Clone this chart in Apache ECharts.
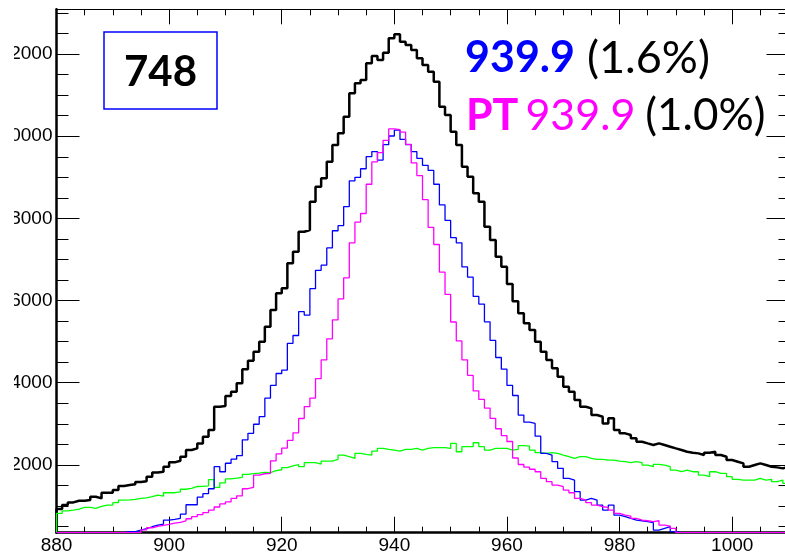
<!DOCTYPE html>
<html>
<head>
<meta charset="utf-8">
<script src="https://cdn.jsdelivr.net/npm/echarts@6/dist/echarts.min.js"></script>
<style>
html,body{margin:0;padding:0;background:#fff;}
#chart{width:785px;height:557px;}
</style>
</head>
<body>
<div id="chart"></div>
<script>
// ---- data (bin width 1, first bin starts at 880) ----
const binStart = 880;
const binWidth = 1;
const xMin = 880, xMax = 1010;
const yMin = 350, yMax = 13090;
const xTickLabels = [880, 900, 920, 940, 960, 980, 1000];
const yTickLabels = [2000, 4000, 6000, 8000, 10000, 12000];

const allEvents = [
  926,1023,1088,1128,1128,1145,1226,1185,1323,1323,
  1388,1485,1510,1530,1583,1600,1713,1818,1834,1956,
  2062,2102,2200,2362,2402,2524,2687,2849,3417,3433,
  3677,3782,3985,4326,4537,4756,5000,5365,5771,6176,
  6298,6906,7190,7677,7718,8407,8773,8975,9381,9787,
  10071,10477,11045,11288,11370,11775,11954,11856,12035,12384,
  12481,12303,12221,12100,11897,11735,11572,11329,10720,10517,
  10112,9787,9260,9016,8610,8407,7799,7474,7068,6825,
  6401,5982,5689,5446,5283,4999,4756,4553,4350,4147,
  3904,3782,3579,3417,3376,3214,3173,3011,3133,2849,
  2768,2727,2646,2565,2524,2484,2524,2484,2443,2402,
  2362,2321,2297,2281,2240,2297,2321,2240,2200,2118,
  2078,2037,1956,1997,2037,1997,1956,1940,1916,1956
];
const selected = [
  0,0,0,0,0,0,0,0,0,0,
  0,0,374,374,414,447,495,536,560,658,
  674,700,800,1030,1030,1215,1300,1420,1956,1834,
  2040,2140,2225,2610,2770,2990,3173,3625,3935,4225,
  4308,4960,5150,5730,5648,6290,6736,6862,7281,7700,
  7826,8287,8916,8999,9209,9503,9628,9419,9796,10006,
  10148,9922,9796,9628,9461,9293,9167,8832,8329,7952,
  7532,7407,6820,6569,6100,5915,5482,5030,4615,4330,
  3936,3690,3214,3040,3010,2700,2281,2240,2078,1916,
  1672,1632,1348,1145,1185,1145,1023,901,1023,780,
  739,698,658,641,617,593,414,455,495,374,
  0,0,0,0,0,0,0,0,0,0,
  0,0,0,0,0,0,0,0,0,0
];
const selectedPT = [
  0,0,0,0,0,0,0,0,0,0,
  0,0,0,0,0,420,470,505,530,555,
  585,600,640,690,740,790,840,900,975,1050,
  1100,1185,1248,1420,1454,1750,1785,1792,2100,2267,
  2410,2597,2782,3130,3420,3628,4100,4555,5070,5530,
  6040,6555,7407,7910,8120,8832,9377,9600,9900,10180,
  10160,10100,9800,9350,9042,8455,7784,7365,6694,6150,
  5479,5018,4557,4180,3802,3593,3383,3131,2880,2713,
  2570,2168,2010,1945,1895,1834,1672,1591,1510,1469,
  1388,1323,1185,1145,1080,1023,982,966,901,820,
  779,755,698,658,641,617,641,536,511,455,
  0,0,0,0,0,0,0,0,0,0,
  0,0,0,0,0,0,0,0,0,0
];
const background = [
  820,880,901,925,966,966,942,990,1023,1023,
  1080,1145,1150,1161,1185,1200,1226,1266,1242,1323,
  1323,1345,1408,1430,1475,1480,1490,1640,1452,1565,
  1660,1677,1697,1768,1790,1800,1820,1812,1860,1882,
  1936,1977,2007,1956,2054,2054,2021,2094,2094,2135,
  2240,2200,2160,2281,2256,2240,2338,2402,2378,2362,
  2338,2378,2378,2402,2362,2402,2419,2419,2419,2402,
  2524,2321,2443,2443,2540,2443,2362,2402,2402,2402,
  2362,2380,2470,2459,2362,2297,2281,2297,2281,2240,
  2200,2159,2200,2200,2159,2135,2135,2118,2118,2094,
  2078,2054,2078,2054,1997,1956,2013,1997,1956,1875,
  1834,1875,1834,1834,1753,1713,1834,1794,1794,1713,
  1648,1632,1632,1632,1672,1632,1648,1591,1632,1550
];

const boxText = '748';
const line1Value = '939.9', line1Pct = '(1.6%)';
const line2Tag = 'PT', line2Value = '939.9', line2Pct = '(1.0%)';

// ---- helpers ----
function histPoints(vals) {
  const pts = [[binStart, yMin]];
  vals.forEach((v, i) => {
    const y = Math.max(v, yMin); // ROOT draws underflow on the frame bottom
    pts.push([binStart + i * binWidth, y], [binStart + (i + 1) * binWidth, y]);
  });
  return pts;
}
function range(a, b, step, skip) {
  const out = [];
  for (let v = a; v <= b + 1e-9; v += step) if (!skip || v % skip !== 0) out.push(v);
  return out;
}
const xMinor = range(885, 1005, 5, 20);
const yMinor = range(500, 13000, 500, 2000);

const FONT_AX = 'Liberation Sans';
const FONT_TX = 'Lato';
const plain = v => String(v);

function xAx(pos, vals, len, lineW, labels) {
  return {
    type: 'value', position: pos, min: xMin, max: xMax,
    axisLine: { show: lineW > 0, onZero: false, lineStyle: { color: '#000', width: lineW || 1 } },
    axisTick: { show: true, inside: true, length: len, customValues: vals, lineStyle: { color: '#000', width: 1 } },
    axisLabel: labels ? { show: true, customValues: vals, formatter: plain, margin: 4, color: '#000', fontFamily: FONT_AX, fontSize: 19 } : { show: false },
    splitLine: { show: false }
  };
}
function yAx(pos, vals, len, lineW, labels) {
  return {
    type: 'value', position: pos, min: yMin, max: yMax,
    axisLine: { show: lineW > 0, onZero: false, lineStyle: { color: '#000', width: lineW || 1 } },
    axisTick: { show: true, inside: true, length: len, customValues: vals, lineStyle: { color: '#000', width: 1 } },
    axisLabel: labels ? { show: true, customValues: vals, formatter: plain, margin: 4, color: '#000', fontFamily: FONT_AX, fontSize: 19 } : { show: false },
    splitLine: { show: false }
  };
}

function histSeries(name, vals, color, width) {
  return {
    name, type: 'line', xAxisIndex: 0, yAxisIndex: 0,
    data: histPoints(vals), showSymbol: false, symbol: 'none',
    lineStyle: { color, width }, clip: true, animation: false
  };
}

const chart = echarts.init(document.getElementById('chart'), null, { renderer: 'canvas' });
chart.setOption({
  animation: false,
  backgroundColor: '#fff',
  grid: { left: 56.5, top: 9.3, width: 732, height: 523.4, containLabel: false, outerBoundsMode: 'none' },
  xAxis: [
    xAx('bottom', xTickLabels, 16, 2.5, true),
    xAx('bottom', xMinor, 6, 0, false),
    xAx('top', xTickLabels, 15, 1, false),
    xAx('top', xMinor, 6, 0, false)
  ],
  yAxis: [
    yAx('left', yTickLabels, 23, 2.5, true),
    yAx('left', yMinor, 12, 0, false),
    yAx('right', yTickLabels, 22, 1, false),
    yAx('right', yMinor, 10, 0, false)
  ],
  series: [
    histSeries('all', allEvents, '#000000', 2.5),
    histSeries('background', background, '#00ff00', 1.3),
    histSeries('selected', selected, '#0000ff', 1.3),
    histSeries('selected PT', selectedPT, '#ff00ff', 1.3)
  ],
  graphic: [
    { type: 'rect', z: 100, shape: { x: 0, y: 0, width: 14, height: 557 }, style: { fill: '#fff' } },
    { type: 'rect', z: 50, shape: { x: 104, y: 32, width: 113, height: 77 }, style: { fill: '#fff', stroke: '#0000ff', lineWidth: 1.5 } },
    { type: 'text', z: 51, x: 160.5, y: 72, style: { text: boxText, font: 'bold 42px ' + FONT_TX, fill: '#000', align: 'center', verticalAlign: 'middle' } },
    { type: 'text', z: 51, x: 465, y: 58, style: {
        text: '{a|' + line1Value + '}{s| }{b|' + line1Pct + '}',
        verticalAlign: 'middle', align: 'left',
        rich: {
          a: { fontFamily: FONT_TX, fontWeight: 'bold', fontSize: 43, fill: '#0000ff' },
          s: { fontFamily: FONT_TX, fontSize: 43, fill: '#000', width: 12 },
          b: { fontFamily: FONT_TX, fontWeight: 'normal', fontSize: 45, fill: '#000' }
        }
    } },
    { type: 'text', z: 51, x: 466, y: 116, style: {
        text: '{a|' + line2Tag + '}{t| }{c|' + line2Value + '}{s| }{b|' + line2Pct + '}',
        verticalAlign: 'middle', align: 'left',
        rich: {
          a: { fontFamily: FONT_TX, fontWeight: 'bold', fontSize: 43, fill: '#ff00ff' },
          t: { fontFamily: FONT_TX, fontSize: 43, fill: '#000', width: 7 },
          s: { fontFamily: FONT_TX, fontSize: 43, fill: '#000', width: 10 },
          c: { fontFamily: FONT_TX, fontWeight: 'normal', fontSize: 43, fill: '#ff00ff' },
          b: { fontFamily: FONT_TX, fontWeight: 'normal', fontSize: 44, fill: '#000' }
        }
    } }
  ]
});
</script>
</body>
</html>
